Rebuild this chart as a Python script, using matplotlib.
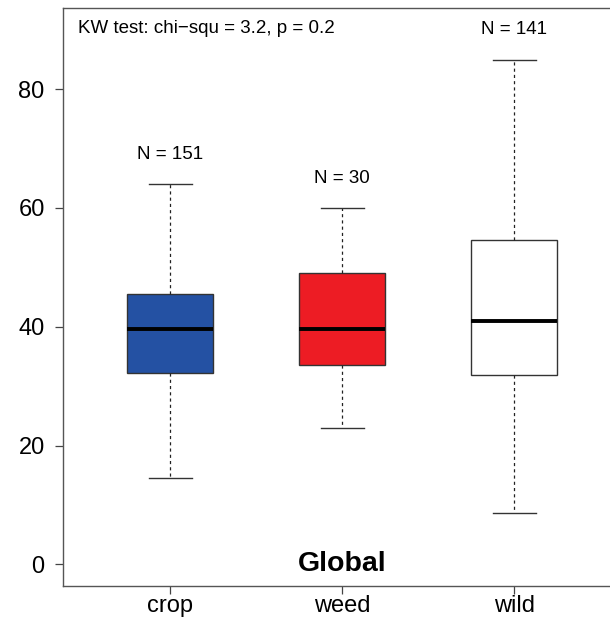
import matplotlib
matplotlib.use("Agg")
import matplotlib.pyplot as plt

plt.rcParams['font.family'] = ['Liberation Sans', 'DejaVu Sans']

# Summary statistics per group
groups = ["crop", "weed", "wild"]
whisker_low = [14.6, 22.9, 8.7]
q1 = [32.2, 33.5, 31.9]
median = [39.7, 39.7, 41.0]
q3 = [45.5, 49.1, 54.6]
whisker_high = [64.0, 60.0, 85.0]
n_obs = [151, 30, 141]
fill_colors = ["#2451A3", "#ED1C24", "#FFFFFF"]
y_ticks = [0, 20, 40, 60, 80]
kw_label = "KW test: chi\u2212squ = 3.2, p = 0.2"
title = "Global"

fig = plt.figure(figsize=(6.10, 6.18), dpi=100)
ax = fig.add_axes([0.104, 0.0523, 0.9136, 0.934])

stats = []
for i, g in enumerate(groups):
    stats.append(dict(label=g, whislo=whisker_low[i], q1=q1[i], med=median[i],
                      q3=q3[i], whishi=whisker_high[i], fliers=[]))

positions = list(range(1, len(groups) + 1))
bp = ax.bxp(stats, positions=positions, widths=0.5, patch_artist=True,
            showfliers=False,
            boxprops=dict(edgecolor="#333333", linewidth=1.0),
            medianprops=dict(color="black", linewidth=2.8, solid_capstyle="butt"),
            whiskerprops=dict(color="#222222", linewidth=0.9, linestyle=(0, (2.5, 2.5))),
            capprops=dict(color="#333333", linewidth=1.0),
            capwidths=0.25)
for patch, c in zip(bp["boxes"], fill_colors):
    patch.set_facecolor(c)

ax.set_xlim(0.38, 3.62)
ax.set_ylim(-3.6, 93.6)
ax.set_yticks(y_ticks)
ax.set_xticks(positions)
ax.set_xticklabels(groups)
ax.tick_params(axis="both", labelsize=17, length=6, width=0.9, color="#444444")
ax.tick_params(axis="y", pad=7.5)
ax.tick_params(axis="x", pad=0.5)
for side in ("left", "bottom", "top"):
    ax.spines[side].set_color("#555555")
    ax.spines[side].set_linewidth(1.0)
ax.spines["right"].set_visible(False)

# Group sizes above the upper whisker
for p, hi, n in zip(positions, whisker_high, n_obs):
    ax.text(p, hi + 5, f"N = {n}", ha="center", va="center", fontsize=13.5)

ax.text(0.465, 90.3, kw_label, ha="left", va="center", fontsize=13.5)
ax.text(2.0, 0.0, title, ha="center", va="center", fontsize=20.5, fontweight="bold")

fig.savefig("out.png", dpi=100)
